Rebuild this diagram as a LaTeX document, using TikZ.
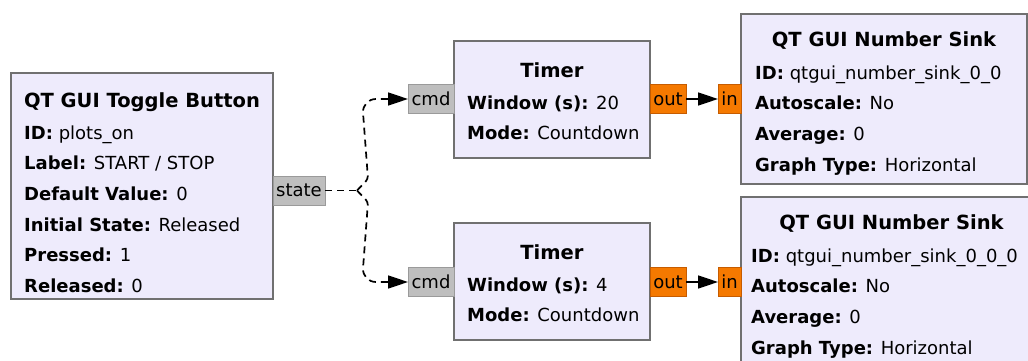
\documentclass[tikz,border=0pt]{standalone}
\usepackage{fontspec}
\setmainfont{DejaVu Sans}
\usetikzlibrary{arrows.meta}
\definecolor{blockfill}{HTML}{EEEBFC}
\definecolor{blockdraw}{HTML}{707070}
\definecolor{portgray}{HTML}{BEBEBE}
\definecolor{portgraydraw}{HTML}{9A9A9A}
\definecolor{portorange}{HTML}{F57900}
\definecolor{portorangedraw}{HTML}{C65C00}
\newcommand{\fs}{\fontsize{18}{20}\selectfont}
\newcommand{\fst}{\fontsize{19.5}{21}\selectfont}
\begin{document}
\begin{tikzpicture}[x=1pt,y=-1pt,
  block/.style={draw=blockdraw, fill=blockfill, line width=1.2pt, anchor=north west, inner sep=0pt, outer sep=0pt},
  txt/.style={anchor=base west, inner sep=0pt, font=\fs},
  ttl/.style={anchor=base, inner sep=0pt, font=\fst\bfseries},
  gport/.style={draw=portgraydraw, fill=portgray, line width=1pt, inner sep=0pt, outer sep=0pt, font=\fs, minimum height=29pt},
  oport/.style={draw=portorangedraw, fill=portorange, line width=1pt, inner sep=0pt, outer sep=0pt, font=\fs, minimum height=29pt},
  dashline/.style={line width=1.7pt, dash pattern=on 7pt off 5pt},
  tip/.style={-{Triangle[length=20pt,width=13pt]}}
]
\useasboundingbox (0,0) rectangle (1028,361);
\fill[white] (0,0) rectangle (1028,361);
\clip (0,0) rectangle (1028,361);

% Toggle button
\node[block, minimum width=262pt, minimum height=226pt] (tog) at (11,73) {};
\node[ttl] (togt) at (142,107) {QT GUI Toggle Button};
\node[txt] (tog1) at (24,139) {\textbf{ID:} plots\_on};
\node[txt] (tog2) at (24,169.7) {\textbf{Label:} START / STOP};
\node[txt] (tog3) at (24,200.4) {\textbf{Default Value:} 0};
\node[txt] (tog4) at (24,231.1) {\textbf{Initial State:} Released};
\node[txt] (tog5) at (24,261.8) {\textbf{Pressed:} 1};
\node[txt] (tog6) at (24,292.5) {\textbf{Released:} 0};
\node[gport, minimum width=52pt] (state) at (299,190.5) {state};

% Timer 1
\node[block, minimum width=196pt, minimum height=117pt] (tim1) at (454,41) {};
\node[ttl] (tim1t) at (552,77.5) {Timer};
\node[txt] (tim1a) at (467,109) {\textbf{Window (s):} 20};
\node[txt] (tim1b) at (467,139.7) {\textbf{Mode:} Countdown};
\node[gport, minimum width=46pt] (cmd1) at (431,99) {cmd};
\node[oport, minimum width=36pt] (out1) at (668,99) {out};

% Timer 2
\node[block, minimum width=196pt, minimum height=117pt] (tim2) at (454,223) {};
\node[ttl] (tim2t) at (552,259.5) {Timer};
\node[txt] (tim2a) at (467,291) {\textbf{Window (s):} 4};
\node[txt] (tim2b) at (467,321.7) {\textbf{Mode:} Countdown};
\node[gport, minimum width=46pt] (cmd2) at (431,282) {cmd};
\node[oport, minimum width=36pt] (out2) at (668,282) {out};

% Sink 1
\node[block, minimum width=286pt, minimum height=170pt] (snk1) at (741,14) {};
\node[ttl] (snk1t) at (884,46.5) {QT GUI Number Sink};
\node[txt] (snk1a) at (755,79.5) {\textbf{ID:} qtgui\_number\_sink\_0\_0};
\node[txt] (snk1b) at (755,110) {\textbf{Autoscale:} No};
\node[txt] (snk1c) at (755,140.5) {\textbf{Average:} 0};
\node[txt] (snk1d) at (755,171) {\textbf{Graph Type:} Horizontal};
\node[oport, minimum width=23pt] (in1) at (729.5,99) {in};

% Sink 2
\node[block, minimum width=301pt, minimum height=190pt] (snk2) at (741,197) {};
\node[ttl] (snk2t) at (891.5,229.5) {QT GUI Number Sink};
\node[txt] (snk2a) at (751,262) {\textbf{ID:} qtgui\_number\_sink\_0\_0\_0};
\node[txt] (snk2b) at (751,292.7) {\textbf{Autoscale:} No};
\node[txt] (snk2c) at (751,323.4) {\textbf{Average:} 0};
\node[txt] (snk2d) at (751,354) {\textbf{Graph Type:} Horizontal};
\node[oport, minimum width=23pt] (in2) at (729.5,282) {in};

% connections
\coordinate (fork) at (357,190.5);
\draw[dashline] (state.east) -- (fork);
\draw[dashline, tip, rounded corners=3pt] (fork) -- (368,179) [rounded corners=14pt] -- (362,99) -- (cmd1.west);
\draw[dashline, tip, rounded corners=3pt] (fork) -- (368,202) [rounded corners=14pt] -- (362,282) -- (cmd2.west);
\draw[line width=1.6pt, tip] (out1.east) -- (in1.west);
\draw[line width=1.6pt, tip] (out2.east) -- (in2.west);
\end{tikzpicture}
\end{document}
